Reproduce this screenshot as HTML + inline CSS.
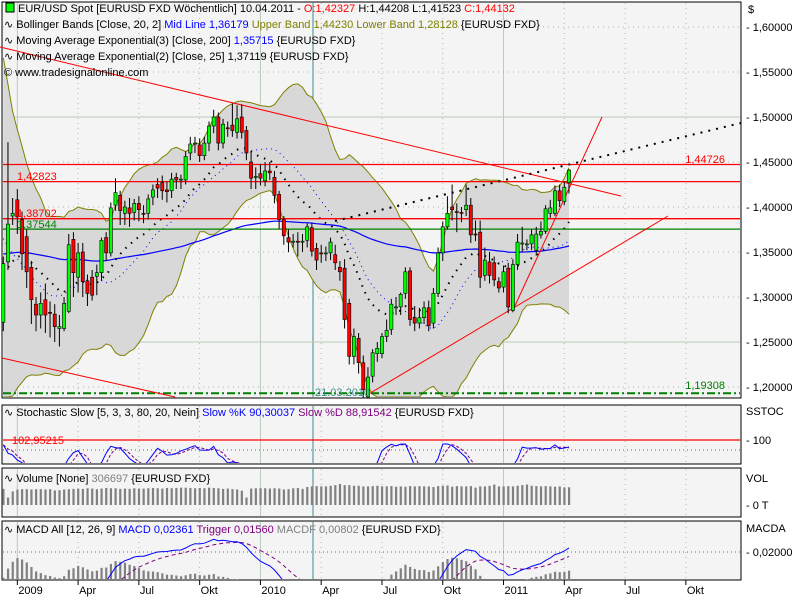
<!DOCTYPE html>
<html><head><meta charset="utf-8">
<style>
html,body{margin:0;padding:0;background:#fff;width:800px;height:600px;overflow:hidden;}
svg{display:block;font-family:"Liberation Sans",sans-serif;font-size:11px;}
</style></head>
<body>
<svg id="chart" width="800" height="600" viewBox="0 0 800 600" xmlns="http://www.w3.org/2000/svg">
<rect x="0" y="0" width="800" height="600" fill="#fff"/>
<defs>
<clipPath id="clipS"><rect x="3" y="406" width="737" height="57"/></clipPath>
<clipPath id="clipM"><rect x="3" y="522" width="737" height="57"/></clipPath>
<clipPath id="clipMain"><rect x="3" y="3" width="737" height="394"/></clipPath>
</defs>
<g id="panels"></g>
<g id="grid"></g>
<g id="band" clip-path="url(#clipMain)"></g>
<g id="lines"></g>
<g id="candles"></g>
<g id="sub"></g>
<g id="labels"></g>
</svg>
<script>
const prevCloses=[1.56,1.55,1.50,1.47,1.46,1.43,1.41,1.39,1.40,1.36,1.28,1.27,1.25,1.28,1.27,1.27,1.25,1.27,1.29];
const opens=[1.272,1.339,1.390,1.408,1.386,1.367,1.333,1.292,1.280,1.297,1.283,1.281,1.265,1.265,1.284,1.364,1.322,1.350,1.318,1.322,1.323,1.327,1.366,1.349,1.402,1.413,1.393,1.399,1.394,1.404,1.393,1.393,1.411,1.425,1.427,1.419,1.418,1.433,1.430,1.430,1.460,1.470,1.469,1.457,1.471,1.490,1.500,1.471,1.488,1.491,1.483,1.500,1.485,1.450,1.433,1.437,1.429,1.440,1.433,1.414,1.386,1.366,1.361,1.362,1.361,1.363,1.377,1.354,1.349,1.348,1.349,1.347,1.333,1.332,1.293,1.234,1.254,1.227,1.189,1.212,1.237,1.237,1.256,1.264,1.288,1.289,1.304,1.329,1.277,1.271,1.277,1.288,1.271,1.304,1.349,1.378,1.400,1.395,1.394,1.397,1.402,1.370,1.372,1.324,1.339,1.338,1.317,1.311,1.332,1.285,1.336,1.359,1.358,1.359,1.352,1.369,1.373,1.393,1.393,1.418,1.406,1.427];
const closes=[1.337,1.381,1.393,1.389,1.348,1.328,1.297,1.280,1.293,1.280,1.282,1.267,1.267,1.293,1.358,1.327,1.349,1.317,1.304,1.302,1.327,1.363,1.349,1.399,1.416,1.396,1.400,1.393,1.404,1.397,1.392,1.409,1.419,1.421,1.418,1.417,1.431,1.430,1.431,1.456,1.470,1.471,1.457,1.471,1.490,1.500,1.471,1.492,1.487,1.485,1.498,1.483,1.460,1.432,1.434,1.432,1.440,1.438,1.413,1.386,1.368,1.361,1.362,1.361,1.362,1.378,1.351,1.341,1.348,1.349,1.361,1.338,1.328,1.275,1.234,1.256,1.227,1.197,1.211,1.238,1.243,1.256,1.263,1.292,1.289,1.303,1.328,1.275,1.271,1.277,1.288,1.268,1.304,1.349,1.378,1.393,1.397,1.394,1.393,1.402,1.369,1.369,1.322,1.341,1.324,1.319,1.310,1.328,1.289,1.336,1.361,1.360,1.359,1.369,1.370,1.373,1.398,1.399,1.418,1.407,1.422,1.441];
const highs=[1.345,1.472,1.410,1.420,1.395,1.375,1.340,1.300,1.305,1.315,1.295,1.292,1.280,1.300,1.370,1.372,1.360,1.360,1.325,1.330,1.336,1.366,1.372,1.405,1.432,1.418,1.407,1.410,1.409,1.412,1.402,1.414,1.425,1.432,1.435,1.428,1.438,1.438,1.436,1.462,1.478,1.478,1.476,1.478,1.495,1.508,1.505,1.498,1.495,1.515,1.513,1.514,1.490,1.460,1.444,1.448,1.450,1.450,1.440,1.418,1.390,1.375,1.370,1.372,1.370,1.382,1.382,1.360,1.358,1.356,1.366,1.358,1.340,1.342,1.298,1.265,1.260,1.235,1.222,1.242,1.250,1.260,1.275,1.298,1.300,1.305,1.333,1.333,1.290,1.288,1.295,1.296,1.310,1.355,1.384,1.412,1.425,1.404,1.400,1.425,1.410,1.385,1.385,1.355,1.350,1.345,1.322,1.335,1.338,1.342,1.370,1.378,1.364,1.375,1.378,1.384,1.402,1.408,1.424,1.425,1.428,1.442];
const lows=[1.262,1.330,1.380,1.370,1.330,1.310,1.270,1.262,1.265,1.260,1.255,1.250,1.245,1.262,1.282,1.300,1.305,1.300,1.290,1.296,1.302,1.318,1.340,1.345,1.396,1.380,1.380,1.378,1.385,1.384,1.382,1.386,1.402,1.410,1.408,1.405,1.410,1.420,1.420,1.425,1.452,1.460,1.450,1.452,1.462,1.482,1.463,1.465,1.478,1.478,1.476,1.476,1.452,1.420,1.420,1.424,1.423,1.430,1.404,1.376,1.358,1.350,1.355,1.345,1.350,1.355,1.345,1.330,1.338,1.340,1.341,1.330,1.318,1.265,1.225,1.225,1.215,1.188,1.187,1.205,1.228,1.232,1.250,1.258,1.280,1.280,1.298,1.268,1.262,1.265,1.270,1.262,1.265,1.300,1.340,1.375,1.385,1.372,1.383,1.390,1.360,1.362,1.310,1.318,1.315,1.312,1.305,1.305,1.282,1.283,1.330,1.350,1.352,1.352,1.346,1.365,1.370,1.388,1.390,1.400,1.402,1.415];
const volumes=[260,120,220,250,255,255,250,255,255,250,255,235,240,250,255,260,265,260,270,265,255,265,275,270,270,260,265,260,270,265,265,270,275,270,265,275,270,275,280,280,275,270,275,270,280,275,270,260,265,255,250,230,120,265,270,270,270,265,270,265,250,255,270,275,260,290,300,305,300,300,310,320,340,320,320,310,310,300,300,305,310,300,300,305,295,300,295,305,300,305,300,300,290,305,310,315,295,305,300,300,305,280,300,300,310,330,300,300,305,300,310,320,330,310,305,300,305,300,295,300,285,285];
const priceTicks=[1.60,1.55,1.50,1.45,1.40,1.35,1.30,1.25,1.20];
const priceTickLabels=["1,60000","1,55000","1,50000","1,45000","1,40000","1,35000","1,30000","1,25000","1,20000"];
const timeLabels=["2009","Apr","Jul","Okt","2010","Apr","Jul","Okt","2011","Apr","Jul","Okt"];
const timeWeeks=[3,16,29,42,55,68,81,94,107,120,133,146];

const NS="http://www.w3.org/2000/svg";
const X0=2,X1=741;
function xOf(i){return 3.3+i*4.675;}
function yP(p){return 387-(p-1.2)*900;}
function clamp(v,a,b){return Math.max(a,Math.min(b,v));}
function mk(parent,tag,attrs,text){const e=document.createElementNS(NS,tag);for(const k in attrs)e.setAttribute(k,attrs[k]);if(text!==undefined)e.textContent=text;document.getElementById(parent).appendChild(e);return e;}
function poly(pts){return pts.map(p=>p[0].toFixed(1)+","+p[1].toFixed(1)).join(" ");}

const panelDefs=[["main-panel",2,2,398],["stochastic-panel",2,405,464],["volume-panel",2,468,517],["macd-panel",2,521,580]];
panelDefs.forEach(d=>{const r=mk("panels","rect",{x:d[1],y:d[2],width:X1-d[1],height:d[3]-d[2],fill:"#f4f4f4",stroke:"#000","stroke-width":1});

});

timeWeeks.forEach((w,k)=>{const x=xOf(w);
  const solid=(k%4===0);
  panelDefs.forEach(d=>{const g=mk("grid","line",{x1:x,x2:x,y1:d[2]+1,y2:d[3]-1,stroke:solid?"#b8ccb8":"#a8bca8","stroke-width":1,"stroke-dasharray":solid?"":"1,4"});
  
  });
  const tk=mk("labels","line",{x1:x,x2:x,y1:580,y2:585,stroke:"#000"});
  
  
  const t=mk("labels","text",{x:x+1,y:594},timeLabels[k]);
  
  
});
panelDefs.forEach(d=>{const g=mk("grid","line",{x1:313,x2:313,y1:d[2]+1,y2:d[3]-1,stroke:"#3c8c8c","stroke-width":1});

});
priceTicks.forEach((p,k)=>{const y=yP(p);const solid=(Math.abs(p-1.5)<1e-6||Math.abs(p-1.25)<1e-6);
  const g=mk("grid","line",{x1:X0+1,x2:X1-1,y1:y,y2:y,stroke:solid?"#b8ccb8":"#a8bca8","stroke-dasharray":solid?"":"1,4"});
  
  
  const t=mk("labels","text",{x:746,y:y+4},"- "+priceTickLabels[k]);
  
  
});

const P=prevCloses.length;
const full=prevCloses.concat(closes);
const n=closes.length;
const mid=[],up=[],lo=[];
for(let i=0;i<n;i++){const e=i+P;const w=full.slice(e-19,e+1);const m=w.reduce((a,b)=>a+b,0)/w.length;
  const sd=Math.sqrt(w.reduce((a,b)=>a+(b-m)*(b-m),0)/w.length);mid.push(m);up.push(m+2*sd);lo.push(m-2*sd);}
function ema(arr,per,seed){const a=2/(per+1);const out=[];let v=seed===undefined?arr[0]:seed;for(let i=0;i<arr.length;i++){v=v+a*(arr[i]-v);out.push(v);}return out;}
const ema200=ema(closes,130,1.348);
const ema25=ema(full,17,1.42).slice(P);
function yPc(p){return clamp(yP(p),3,397);}

const bandPts=[];for(let i=0;i<n;i++)bandPts.push([xOf(i),yPc(up[i])]);for(let i=n-1;i>=0;i--)bandPts.push([xOf(i),yPc(lo[i])]);
const bp=mk("band","polygon",{points:poly(bandPts),fill:"#d8d8d8"});


const ub=mk("band","polyline",{points:poly(up.map((v,i)=>[xOf(i),yPc(v)])),fill:"none",stroke:"#808000"});


const lb=mk("band","polyline",{points:poly(lo.map((v,i)=>[xOf(i),yPc(v)])),fill:"none",stroke:"#808000"});


const ml=mk("band","polyline",{points:poly(mid.map((v,i)=>[xOf(i),yPc(v)])),fill:"none",stroke:"#0000ff","stroke-dasharray":"1,4"});


const e200=mk("band","polyline",{points:poly(ema200.map((v,i)=>[xOf(i),yPc(v)])),fill:"none",stroke:"#0000ff","stroke-width":1.2});


const e25=mk("band","polyline",{points:poly(ema25.map((v,i)=>[xOf(i),yPc(v)])),fill:"none",stroke:"#000","stroke-width":2,"stroke-dasharray":"1.5,6"});



function hline(p,color,name,dash){const l=mk("lines","line",{x1:X0+1,x2:X1-1,y1:yP(p),y2:yP(p),stroke:color,"stroke-width":dash?2:1.3,"stroke-dasharray":dash||""});

}
hline(1.44726,"#ff0000","level-1-44726");
hline(1.42823,"#ff0000","level-1-42823");
hline(1.38702,"#ff0000","level-1-38702");
hline(1.37544,"#008000","level-1-37544");
hline(1.19308,"#008000","level-1-19308","8,3,2,3");
function tline(x1,y1,x2,y2,name,color,dash,w){const l=mk("lines","line",{x1:x1,y1:y1,x2:x2,y2:y2,stroke:color,"stroke-width":w||1,"stroke-dasharray":dash||""});

}
tline(0,47,621,196,"trendline-resistance","#ff0000");
tline(2,358,175,397,"trendline-lower-left","#ff0000");
tline(367,395,668,216,"trendline-support","#ff0000");
tline(513,310,602,117,"trendline-steep","#ff0000");
tline(335,221,741,123,"trendline-projection","#000","2,6",2);

for(let i=0;i<n;i++){const x=xOf(i);const o=opens[i],c=closes[i];
  const w=mk("candles","line",{x1:x,x2:x,y1:yP(highs[i]),y2:yP(lows[i]),stroke:"#000"});
  
  
  const top=yP(Math.max(o,c)),bot=yP(Math.min(o,c));
  const b=mk("candles","rect",{x:x-1.6,y:top,width:3.2,height:Math.max(1,bot-top),fill:c>=o?"#00ff00":"#ff0000",stroke:"#000","stroke-width":0.6});
  
  
}

const rawK=[];for(let i=0;i<n;i++){const s=Math.max(0,i-4);let hh=-1,ll=9;for(let j=s;j<=i;j++){hh=Math.max(hh,highs[j]);ll=Math.min(ll,lows[j]);}rawK.push(hh>ll?(closes[i]-ll)/(hh-ll)*100:50);}
function sma(a,p){return a.map((v,i)=>{const s=Math.max(0,i-p+1);const w=a.slice(s,i+1);return w.reduce((x,y)=>x+y,0)/w.length;});}
const slowK=sma(rawK,3),slowD=sma(slowK,3);
function yS(v){return clamp(440+(100-v)*0.5,406,466);}
const s80=mk("sub","line",{x1:3,x2:740,y1:yS(80),y2:yS(80),stroke:"#666","stroke-dasharray":"1,3"});


const s100=mk("sub","line",{x1:3,x2:740,y1:yS(100),y2:yS(100),stroke:"#ff0000","stroke-width":1.3});


const sd=mk("sub","polyline",{points:poly(slowD.map((v,i)=>[xOf(i),yS(v)])),fill:"none",stroke:"#800080","stroke-dasharray":"3,2","clip-path":"url(#clipS)"});


const sk=mk("sub","polyline",{points:poly(slowK.map((v,i)=>[xOf(i),yS(v)])),fill:"none",stroke:"#0000ff","clip-path":"url(#clipS)"});



function yV(v){return 505-v*0.062;}
for(let i=0;i<n;i++){const r=mk("sub","rect",{x:xOf(i)-1,y:yV(volumes[i]),width:2.2,height:505-yV(volumes[i]),fill:"#808080"});

}

const e12=ema(full,12),e26=ema(full,26);const macdFull=e12.map((v,i)=>v-e26[i]);const trigFull=ema(macdFull,9);
const macd=macdFull.slice(P),trig=trigFull.slice(P);
function yM(v){return clamp(574-v*1100,522,582);}
for(let i=0;i<n;i++){const h=macd[i]-trig[i];if(h>0){const hh=Math.min(40,h*1200);const r=mk("sub","rect",{x:xOf(i)-1,y:580-hh,width:2.2,height:hh,fill:"#808080"});

}}
const m02=mk("sub","line",{x1:3,x2:740,y1:yM(0.02),y2:yM(0.02),stroke:"#666","stroke-dasharray":"1,3"});


const tr=mk("sub","polyline",{points:poly(trig.map((v,i)=>[xOf(i),yM(v)])),fill:"none",stroke:"#800080","stroke-dasharray":"4,3","clip-path":"url(#clipM)"});


const mc=mk("sub","polyline",{points:poly(macd.map((v,i)=>[xOf(i),yM(v)])),fill:"none",stroke:"#0000ff","clip-path":"url(#clipM)"});



const L=document.getElementById("labels");
L.insertAdjacentHTML("beforeend",`
<text x="748" y="13">$</text>
<text x="746" y="415">SSTOC</text>
<text x="746" y="444">- 100</text>
<text x="746" y="482">VOL</text>
<text x="746" y="509">- 0 T</text>
<text x="746" y="532">MACDA</text>
<text x="746" y="556">- 0,02000</text>
<text x="725" y="163" text-anchor="end" fill="#ff0000">1,44726</text>
<text x="17" y="180" fill="#ff0000">1,42823</text>
<text x="17" y="217" fill="#ff0000">1,38702</text>
<text x="17" y="228" fill="#008000">1,37544</text>
<text x="725" y="389" text-anchor="end" fill="#008000">1,19308</text>
<text x="315" y="396" fill="#3c8c8c">21.03.2010</text>
<text x="12" y="444" fill="#ff0000">102,95215</text>
<g>
<rect x="6" y="3" width="8" height="9" fill="#00ff00" stroke="#000"/>
<text x="18" y="12">EUR/USD Spot [EURUSD FXD  Wöchentlich] 10.04.2011 - <tspan fill="#ff0000">O:1,42327</tspan> H:1,44208 L:1,41523 <tspan fill="#ff0000">C:1,44132</tspan></text>
<text x="4" y="28">∿ Bollinger Bands [Close, 20, 2] <tspan fill="#0000ff">Mid Line 1,36179</tspan> <tspan fill="#808000">Upper Band 1,44230 Lower Band 1,28128</tspan> {EURUSD FXD}</text>
<text x="4" y="44">∿ Moving Average Exponential(3) [Close, 200] <tspan fill="#0000ff">1,35715</tspan> {EURUSD FXD}</text>
<text x="4" y="60">∿ Moving Average Exponential(2) [Close, 25] 1,37119 {EURUSD FXD}</text>
<text x="4" y="76">© www.tradesignalonline.com</text>
</g>
<text x="4" y="416">∿ Stochastic Slow [5, 3, 3, 80, 20, Nein] <tspan fill="#0000ff">Slow %K 90,30037</tspan> <tspan fill="#800080">Slow %D 88,91542</tspan> {EURUSD FXD}</text>
<text x="4" y="482">∿ Volume [None] <tspan fill="#808080">306697</tspan> {EURUSD FXD}</text>
<text x="4" y="533">∿ MACD All [12, 26, 9] <tspan fill="#0000ff">MACD 0,02361</tspan> <tspan fill="#800080">Trigger 0,01560</tspan> <tspan fill="#808080">MACDF 0,00802</tspan> {EURUSD FXD}</text>
`);
</script>
</body></html>
